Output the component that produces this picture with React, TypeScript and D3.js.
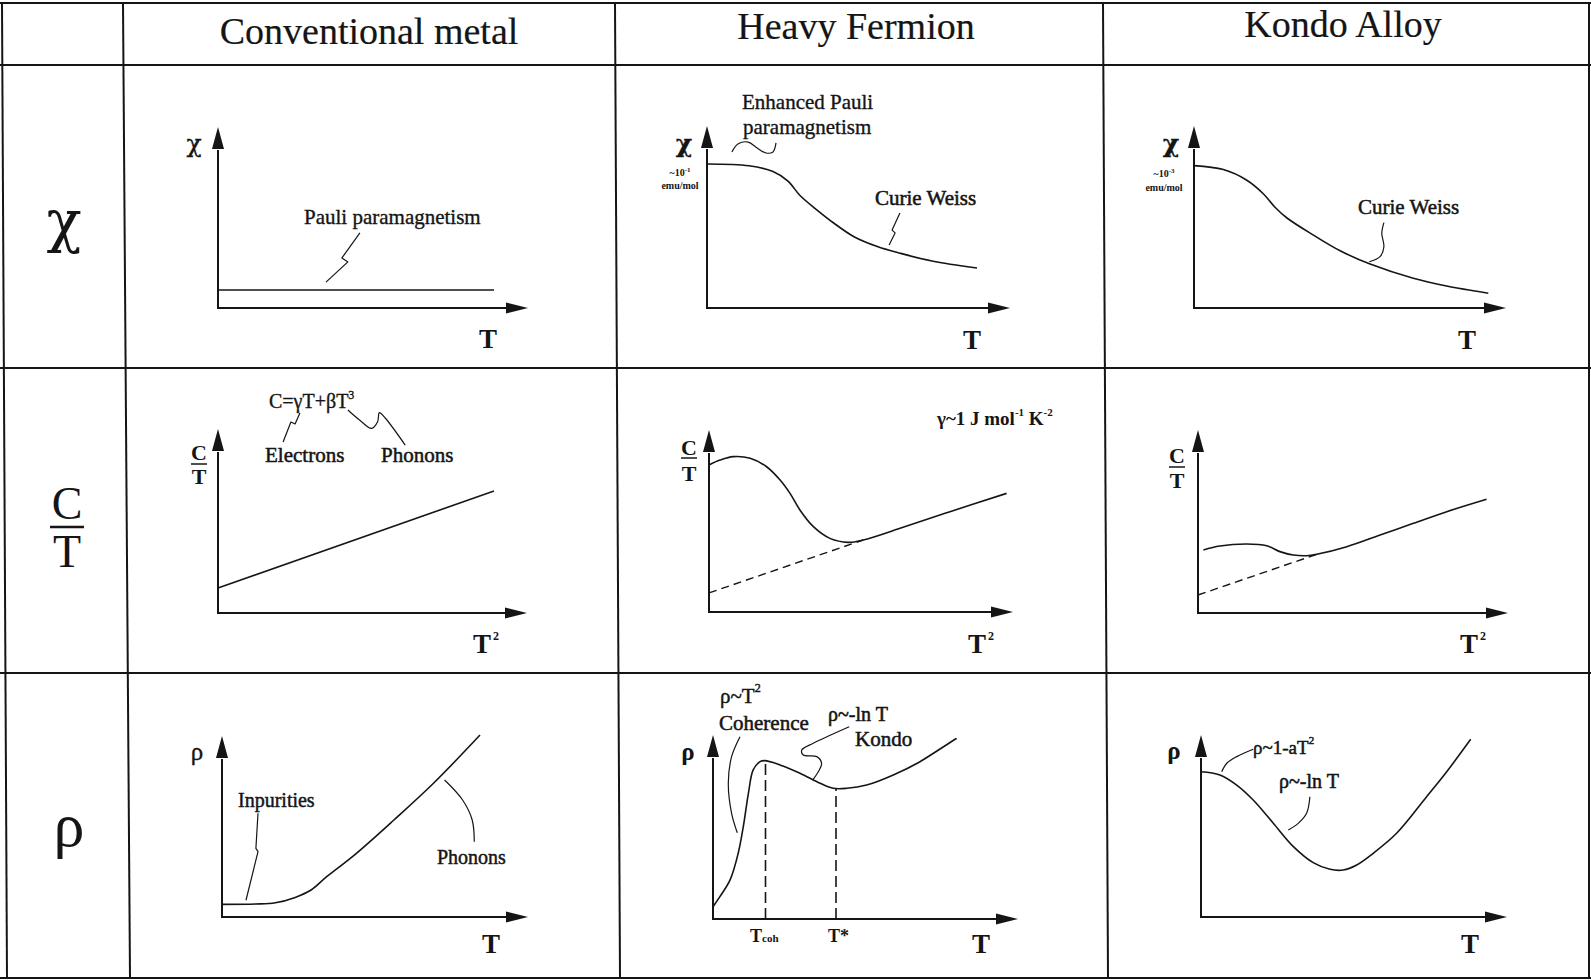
import React from 'react';
import * as d3 from 'd3';

// column headers
const COLUMNS = ['Conventional metal', 'Heavy Fermion', 'Kondo Alloy'];

// susceptibility chi(T), arbitrary units 0..100
const pauliT = [0, 92];
const pauliChi = [10, 10];
const hfChiT = [0, 14, 22, 27, 31, 37, 42, 49, 57, 64, 75, 90];
const hfChi = [80, 79, 75.8, 70.5, 62.5, 54, 47.5, 39.6, 34, 30.6, 26.1, 22.2];
const kondoChiT = [0, 9.8, 17.6, 23.1, 27, 31, 39.8, 48.7, 58.7, 73.1, 84.2, 98.1];
const kondoChi = [79.1, 76.9, 71, 63.5, 56, 50, 40.5, 31.8, 24.4, 16.5, 12.2, 8.2];

// specific heat C/T vs T^2
const metalT2 = [0, 92];
const metalCT = [13.9, 67.8];
const hfT2 = [0, 3.7, 8.1, 13.7, 19.2, 23.7, 27, 30.3, 34.8, 40.3, 46.4, 51.4, 63.7, 80.3, 99.2];
const hfCT = [81.7, 84.4, 86.3, 85.4, 80.7, 73.3, 65.9, 56.7, 47.4, 40.9, 38.7, 40, 46.5, 55.7, 65.9];
const hfGammaT2 = [0, 51.4];
const hfGammaCT = [10.6, 40];
const kondoT2 = [1.8, 7.3, 16.2, 22.9, 27.3, 31.8, 36.2, 39.6, 49.6, 60.7, 71.8, 82.9, 96.2];
const kondoCT = [35, 37.2, 38.3, 37.4, 34.1, 32.2, 31.8, 32.6, 36.8, 43.3, 49.8, 56.3, 63.2];
const kondoGammaT2 = [0, 39.6];
const kondoGammaCT = [10, 32.6];

// resistivity rho(T)
const metalRhoT = [0, 11.2, 17.8, 24.4, 29.7, 34.9, 44.1, 57.3, 70.5, 86];
const metalRho = [7, 7.2, 7.9, 10.9, 15, 22.4, 34.4, 53.9, 74.3, 101.1];
const hfRhoT = [0, 2.3, 5.7, 8.4, 10.1, 11.8, 13.4, 15.7, 17.3, 22.3, 29, 35.7, 40.1, 44.6, 51.2, 60.1, 69, 81.2];
const hfRho = [6.8, 12.4, 21.7, 36.5, 51.3, 69.8, 82.8, 87.4, 88, 85.6, 81, 75.4, 72.6, 72.6, 74.4, 80, 87.4, 100.4];
const hfMarkT = [17.5, 41];
const hfMarkRho = [87.6, 72.6];
const kondoRhoT = [0, 6.3, 11.9, 17.4, 24.1, 30.8, 37.4, 43, 47.4, 51.9, 57.4, 65.2, 75.2, 81.9, 89.9];
const kondoRho = [80.7, 78.9, 73.3, 65, 52.1, 39.1, 30.2, 26.5, 26.1, 28.9, 35.4, 46.5, 66.8, 80.7, 98.7];

// annotation leaders, same units as the curves
const leadPauli = [[47.3, 41.7], [41.3, 27.8], [43.3, 25.6], [36, 14.4]];
const leadEnhanced = [[8.3, 86.7], [10.3, 91.1], [13.7, 92.2], [16.7, 88.9], [19.7, 86.1], [22, 86.7], [23, 91.7]];
const leadCurieHF = [[64.3, 52.8], [61.7, 43.3], [62.7, 41.7], [60.7, 35]];
const leadCurieKondo = [[63.3, 47.4], [62.6, 41.5], [63.3, 34.1], [62, 28.5], [58.4, 25.7]];
const leadElectrons = [[27.3, 111.1], [25.7, 105], [24.3, 106.1], [21.7, 95]];
const leadPhononsC = [[43.3, 112.8], [47.2, 107.2], [51.2, 102.6], [53.2, 106.3], [53.8, 111.3], [55.8, 108.2], [62.4, 93.3]];
const leadImpurities = [[12, 57.6], [11.3, 38.1], [12, 36.3], [8, 9.3]];
const leadPhononsR = [[74.2, 76.1], [80.2, 65], [83.4, 53.9], [84.1, 41.8]];
const leadCoherence = [[9, 101.3], [6.2, 90.2], [5.1, 75.4], [6.2, 58.7], [8.1, 47.9]];
const leadKondo = [[45.4, 106.8], [33.4, 97.6], [29.6, 93.9], [30.1, 91.1], [34.6, 90.2], [36.2, 86.5], [35.1, 81.8], [33.2, 77.2]];
const leadQuad = [[17.4, 93.2], [11.9, 89.1], [8.6, 85.4], [6.9, 80.7]];
const leadLog = [[36.3, 66.8], [35.2, 57.6], [32.4, 52], [29.1, 48.3]];

// panel frames: axis corner and arrow tips
const GEOM = [
  [{ x0: 218, y0: 308, xTip: 528, yTip: 127 }, { x0: 707, y0: 308, xTip: 1010, yTip: 126 }, { x0: 1194, y0: 308, xTip: 1506, yTip: 126 }],
  [{ x0: 218, y0: 613, xTip: 527, yTip: 429 }, { x0: 709, y0: 612, xTip: 1013, yTip: 430 }, { x0: 1198, y0: 613, xTip: 1508, yTip: 430 }],
  [{ x0: 222, y0: 917, xTip: 528, yTip: 736 }, { x0: 713, y0: 919, xTip: 1018, yTip: 735 }, { x0: 1201, y0: 917, xTip: 1507, yTip: 735 }],
];

const GRID_V = [[2, 3, 7, 978], [123, 3, 130, 978], [615, 3, 620, 978], [1103, 3, 1108, 978], [1589, 3, 1589, 978]];
const GRID_H = [3, 65, 368, 673, 978];

const FONT = '"Liberation Serif", "Times New Roman", serif';
const GREEK = '"DejaVu Serif", "Liberation Serif", serif';
const INK = '#151515';

type Pt = [number, number];
const zip = (a: number[], b: number[]): Pt[] => a.map((v, i) => [v, b[i]]);

function scalesFor(g) {
  return {
    x: d3.scaleLinear().domain([0, 100]).range([g.x0, g.x0 + 300]),
    y: d3.scaleLinear().domain([0, 100]).range([g.y0, g.y0 - 180]),
  };
}

const Curve = ({ g, pts, smooth = true, width = 1.6, dash = undefined }) => {
  const { x, y } = scalesFor(g);
  const gen = d3.line<Pt>().x(d => x(d[0])).y(d => y(d[1]));
  if (smooth) gen.curve(d3.curveCatmullRom.alpha(0.5));
  return <path d={gen(pts) || ''} fill="none" stroke={INK} strokeWidth={width} strokeDasharray={dash} strokeLinejoin="round" />;
};

const Axes = ({ g }) => {
  const yBase = g.yTip + 22;
  const xBase = g.xTip - 22;
  return (
    <g>
      <line x1={g.x0} y1={g.y0} x2={g.x0} y2={yBase + 1} stroke={INK} strokeWidth={2} />
      <line x1={g.x0 - 1} y1={g.y0} x2={xBase + 1} y2={g.y0} stroke={INK} strokeWidth={2} />
      <path d={`M${g.x0},${g.yTip}L${g.x0 - 6},${yBase}L${g.x0 + 6},${yBase}Z`} fill={INK} />
      <path d={`M${g.xTip},${g.y0}L${xBase},${g.y0 - 5.5}L${xBase},${g.y0 + 5.5}Z`} fill={INK} />
    </g>
  );
};

// scanned print looks a bit heavier than the plain font, so thin outline
const Txt = ({ x, y, size = 20, bold = false, anchor = 'start', family = undefined, heavy = 0.35, children }) => (
  <text x={x} y={y} fontSize={size} fontWeight={bold ? 'bold' : 'normal'} textAnchor={anchor} fill={INK}
    stroke={INK} strokeWidth={heavy} fontFamily={family}>{children}</text>
);

const Frac = ({ x, top, bar, bottom, size = 22, barW = 16 }) => (
  <g>
    <Txt x={x} y={top} size={size} bold anchor="middle" heavy={0}>C</Txt>
    <line x1={x - barW / 2} x2={x + barW / 2} y1={bar} y2={bar} stroke={INK} strokeWidth={1.5} />
    <Txt x={x} y={bottom} size={size} bold anchor="middle" heavy={0}>T</Txt>
  </g>
);

const TSquared = ({ x, y }) => (
  <g>
    <Txt x={x} y={y} size={27} bold anchor="middle" heavy={0}>T</Txt>
    <Txt x={x + 11} y={y - 13} size={12} bold heavy={0}>2</Txt>
  </g>
);

export default function App() {
  const [r1, r2, r3] = GEOM;
  const tick = (g, t, r) => {
    const { x, y } = scalesFor(g);
    return <line key={t} x1={x(t)} x2={x(t)} y1={y(0)} y2={y(r)} stroke={INK} strokeWidth={1.6} strokeDasharray="11,5" />;
  };
  return (
    <svg width={1591} height={980} style={{ position: 'absolute', left: 0, top: 0 }} fontFamily={FONT}>
      <rect width={1591} height={980} fill="#fff" />
      {GRID_V.map(([a, b, c, d], i) => <line key={'v' + i} x1={a} y1={b} x2={c} y2={d} stroke={INK} strokeWidth={2} />)}
      {GRID_H.map((yy, i) => <line key={'h' + i} x1={0} x2={1591} y1={yy} y2={yy} stroke={INK} strokeWidth={2} />)}

      <Txt x={369} y={44} size={38} anchor="middle" heavy={0.2}>{COLUMNS[0]}</Txt>
      <Txt x={856} y={39} size={38} anchor="middle" heavy={0.2}>{COLUMNS[1]}</Txt>
      <Txt x={1343} y={37} size={38} anchor="middle" heavy={0.2}>{COLUMNS[2]}</Txt>

      {/* row labels */}
      <Txt x={64} y={241} size={58} anchor="middle" family={GREEK} heavy={0}>χ</Txt>
      <Txt x={67} y={519} size={46} anchor="middle" heavy={0}>C</Txt>
      <line x1={50} x2={84} y1={527} y2={527} stroke={INK} strokeWidth={2.5} />
      <Txt x={67} y={567} size={46} anchor="middle" heavy={0}>T</Txt>
      <Txt x={69} y={846} size={62} anchor="middle" heavy={0}>ρ</Txt>

      {/* row 1: chi */}
      <Axes g={r1[0]} />
      <Txt x={194} y={152} size={25} anchor="middle" family={GREEK}>χ</Txt>
      <Curve g={r1[0]} pts={zip(pauliT, pauliChi)} smooth={false} />
      <Curve g={r1[0]} pts={leadPauli as Pt[]} smooth={false} width={1.2} />
      <Txt x={304} y={224} size={21}>Pauli paramagnetism</Txt>
      <Txt x={488} y={348} size={27} bold anchor="middle" heavy={0}>T</Txt>

      <Axes g={r1[1]} />
      <Txt x={684} y={152} size={25} bold anchor="middle" family={GREEK}>χ</Txt>
      <text x={680} y={176} fontSize={10} fontWeight="bold" textAnchor="middle" fill={INK}>~10<tspan fontSize={7} dy={-4}>-1</tspan></text>
      <Txt x={680} y={189} size={10} bold anchor="middle" heavy={0}>emu/mol</Txt>
      <Curve g={r1[1]} pts={zip(hfChiT, hfChi)} />
      <Curve g={r1[1]} pts={leadEnhanced as Pt[]} width={1.2} />
      <Txt x={742} y={109} size={21}>Enhanced Pauli</Txt>
      <Txt x={743} y={134} size={21}>paramagnetism</Txt>
      <Txt x={875} y={205} size={21} heavy={0.55}>Curie Weiss</Txt>
      <Curve g={r1[1]} pts={leadCurieHF as Pt[]} smooth={false} width={1.2} />
      <Txt x={972} y={349} size={27} bold anchor="middle" heavy={0}>T</Txt>

      <Axes g={r1[2]} />
      <Txt x={1171} y={152} size={25} bold anchor="middle" family={GREEK}>χ</Txt>
      <text x={1164} y={177} fontSize={10} fontWeight="bold" textAnchor="middle" fill={INK}>~10<tspan fontSize={7} dy={-4}>-3</tspan></text>
      <Txt x={1164} y={191} size={10} bold anchor="middle" heavy={0}>emu/mol</Txt>
      <Curve g={r1[2]} pts={zip(kondoChiT, kondoChi)} />
      <Txt x={1358} y={214} size={21} heavy={0.5}>Curie Weiss</Txt>
      <Curve g={r1[2]} pts={leadCurieKondo as Pt[]} width={1.2} />
      <Txt x={1467} y={349} size={27} bold anchor="middle" heavy={0}>T</Txt>

      {/* row 2: C/T */}
      <Axes g={r2[0]} />
      <Frac x={199} top={460} bar={464} bottom={484} />
      <Curve g={r2[0]} pts={zip(metalT2, metalCT)} smooth={false} />
      <text x={269} y={408} fontSize={20} fill={INK} stroke={INK} strokeWidth={0.35}>C=γT+βT<tspan fontSize={12} dy={-9}>3</tspan></text>
      <Curve g={r2[0]} pts={leadElectrons as Pt[]} smooth={false} width={1.2} />
      <Curve g={r2[0]} pts={leadPhononsC as Pt[]} width={1.2} />
      <Txt x={265} y={462} size={21} heavy={0.5}>Electrons</Txt>
      <Txt x={381} y={462} size={21} heavy={0.5}>Phonons</Txt>
      <TSquared x={482} y={653} />

      <Axes g={r2[1]} />
      <Frac x={689} top={455} bar={458} bottom={481} />
      <Curve g={r2[1]} pts={zip(hfT2, hfCT)} />
      <Curve g={r2[1]} pts={zip(hfGammaT2, hfGammaCT)} smooth={false} width={1.4} dash="8,5" />
      <text x={937} y={425} fontSize={19} fontWeight="bold" fill={INK}>γ~1 J mol<tspan fontSize={11} dy={-9}>-1</tspan><tspan dy={9}> K</tspan><tspan fontSize={11} dy={-9}>-2</tspan></text>
      <TSquared x={977} y={653} />

      <Axes g={r2[2]} />
      <Frac x={1177} top={463} bar={467} bottom={488} />
      <Curve g={r2[2]} pts={zip(kondoT2, kondoCT)} />
      <Curve g={r2[2]} pts={zip(kondoGammaT2, kondoGammaCT)} smooth={false} width={1.4} dash="8,5" />
      <TSquared x={1469} y={653} />

      {/* row 3: rho */}
      <Axes g={r3[0]} />
      <Txt x={197} y={760} size={25} anchor="middle">ρ</Txt>
      <Curve g={r3[0]} pts={zip(metalRhoT, metalRho)} />
      <Txt x={238} y={807} size={20} heavy={0.45}>Inpurities</Txt>
      <Curve g={r3[0]} pts={leadImpurities as Pt[]} smooth={false} width={1.2} />
      <Txt x={437} y={864} size={20} heavy={0.45}>Phonons</Txt>
      <Curve g={r3[0]} pts={leadPhononsR as Pt[]} width={1.2} />
      <Txt x={491} y={953} size={27} bold anchor="middle" heavy={0}>T</Txt>

      <Axes g={r3[1]} />
      <Txt x={688} y={760} size={25} bold anchor="middle" heavy={0}>ρ</Txt>
      <Curve g={r3[1]} pts={zip(hfRhoT, hfRho)} />
      {hfMarkT.map((t, i) => tick(r3[1], t, hfMarkRho[i]))}
      <text x={750} y={942} fontSize={18} fontWeight="bold" fill={INK}>T<tspan fontSize={11}>coh</tspan></text>
      <Txt x={828} y={942} size={18} bold heavy={0}>T*</Txt>
      <text x={720} y={703} fontSize={21} fill={INK} stroke={INK} strokeWidth={0.45}>ρ~T<tspan fontSize={12} dy={-11}>2</tspan></text>
      <Txt x={719} y={730} size={21} heavy={0.5}>Coherence</Txt>
      <Curve g={r3[1]} pts={leadCoherence as Pt[]} width={1.2} />
      <Txt x={828} y={721} size={20} heavy={0.55}>ρ~-ln T</Txt>
      <Txt x={855} y={746} size={21} heavy={0.5}>Kondo</Txt>
      <Curve g={r3[1]} pts={leadKondo as Pt[]} width={1.2} />
      <Txt x={981} y={953} size={27} bold anchor="middle" heavy={0}>T</Txt>

      <Axes g={r3[2]} />
      <Txt x={1174} y={759} size={25} bold anchor="middle" heavy={0}>ρ</Txt>
      <Curve g={r3[2]} pts={zip(kondoRhoT, kondoRho)} />
      <text x={1253} y={754} fontSize={19} fill={INK} stroke={INK} strokeWidth={0.5}>ρ~1-aT<tspan fontSize={11} dy={-10}>2</tspan></text>
      <Curve g={r3[2]} pts={leadQuad as Pt[]} width={1.2} />
      <Txt x={1279} y={788} size={20} heavy={0.55}>ρ~-ln T</Txt>
      <Curve g={r3[2]} pts={leadLog as Pt[]} width={1.2} />
      <Txt x={1470} y={953} size={27} bold anchor="middle" heavy={0}>T</Txt>
    </svg>
  );
}
